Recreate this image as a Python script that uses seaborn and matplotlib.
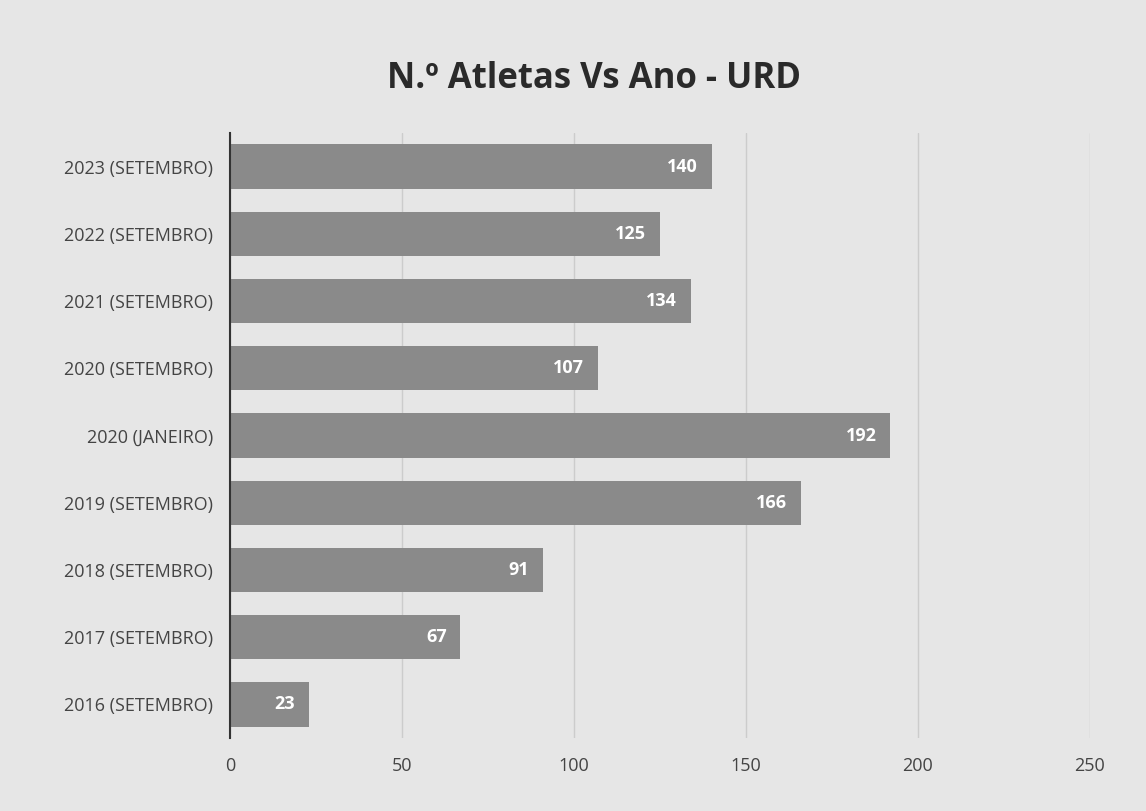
import matplotlib
matplotlib.use("Agg")
import matplotlib.pyplot as plt
import seaborn as sns
import pandas as pd

categories = ["2023 (SETEMBRO)", "2022 (SETEMBRO)", "2021 (SETEMBRO)", "2020 (SETEMBRO)",
              "2020 (JANEIRO)", "2019 (SETEMBRO)", "2018 (SETEMBRO)", "2017 (SETEMBRO)",
              "2016 (SETEMBRO)"]
values = [140, 125, 134, 107, 192, 166, 91, 67, 23]
xticks = [0, 50, 100, 150, 200, 250]

df = pd.DataFrame({"cat": categories, "val": values})

sns.set_theme(style="white")
plt.rcParams['font.family'] = ['Open Sans', 'DejaVu Sans']

fig = plt.figure(figsize=(11.46, 8.11), dpi=100)
fig.patch.set_facecolor("#e6e6e6")
ax = fig.add_axes([0.2007, 0.09, 0.7503, 0.746])
ax.set_facecolor("#e6e6e6")

sns.barplot(data=df, x="val", y="cat", color="#8a8a8a", width=0.66, ax=ax,
            saturation=1, linewidth=0, edgecolor="none")

ax.set_xlim(0, 250)
ax.set_xticks(xticks)
ax.set_xticklabels([str(t) for t in xticks], fontsize=13, color="#444444")
ax.tick_params(axis="y", labelsize=13, labelcolor="#444444", length=0, pad=12)
ax.tick_params(axis="x", length=0, pad=14)
ax.set_xlabel("")
ax.set_ylabel("")
ax.grid(axis="x", color="#cccccc", linewidth=1)
ax.set_axisbelow(True)
for s in ["top", "right", "bottom"]:
    ax.spines[s].set_visible(False)
ax.spines["left"].set_color("#333333")
ax.spines["left"].set_linewidth(1.5)

for p, v in zip(ax.patches, values):
    ax.text(p.get_width() - 4, p.get_y() + p.get_height() / 2, str(v),
            ha="right", va="center", color="white", fontsize=13, fontweight="bold")

fig.text(0.518, 0.903, "N.º Atletas Vs Ano - URD", ha="center", va="center",
         fontsize=25, fontweight="bold", color="#2a2a2a")

fig.savefig("out.png", dpi=100, facecolor=fig.get_facecolor())
